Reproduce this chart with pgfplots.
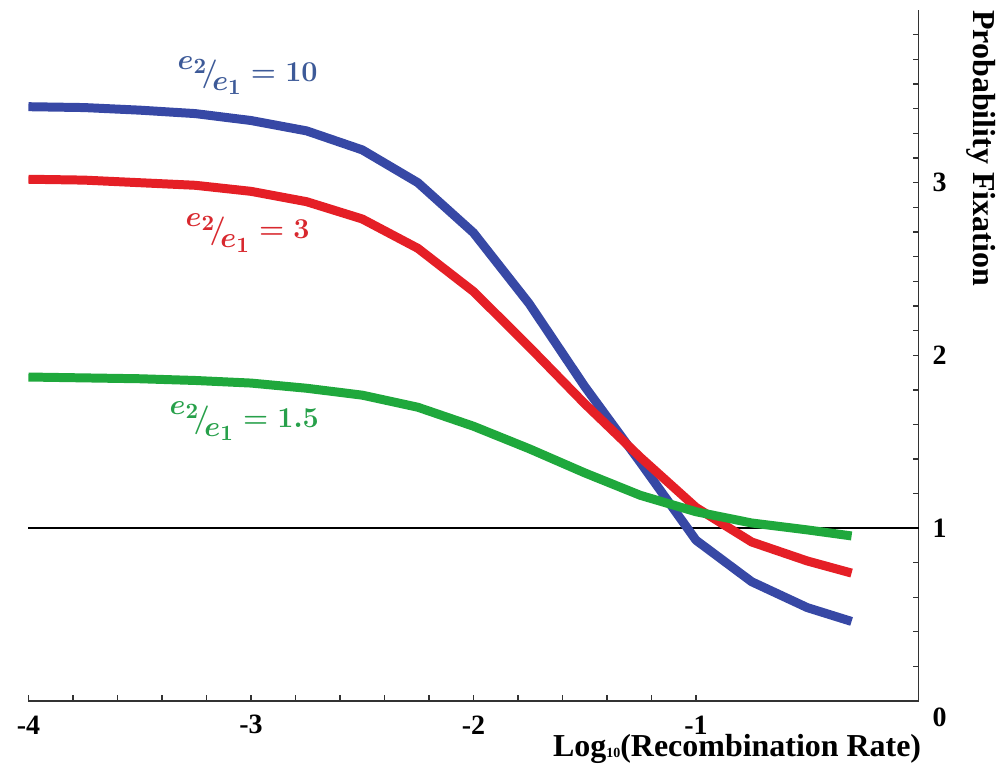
\documentclass[border=0pt]{standalone}
\usepackage{pgfplots}
\pgfplotsset{compat=1.18}
\usepackage{fontspec}
\setmainfont{Liberation Serif}
\definecolor{bluecurve}{HTML}{3748A5}
\definecolor{redcurve}{HTML}{E51F26}
\definecolor{greencurve}{HTML}{1FA83C}
\definecolor{bluetext}{HTML}{3D5A98}
\definecolor{redtext}{HTML}{D8282E}
\definecolor{greentext}{HTML}{27A04A}
\definecolor{axisgray}{HTML}{333333}
% e2/e1 ratio label, set as a slanted fraction
\newcommand{\ratio}[1]{{\boldmath$\raisebox{0.42em}{$e_2$}\!\big/\!\raisebox{-0.30em}{$e_1$} = \mathbf{#1}$}}

\begin{document}
\begin{tikzpicture}
\begin{axis}[
  scale only axis,
  width=445.75pt, height=346pt,
  xmin=-4, xmax=0, ymin=0, ymax=4,
  axis x line=bottom, axis y line=right,
  axis line style={-, draw=axisgray, line width=0.7pt},
  xtick={-4,-3,-2,-1},
  xticklabels={-4,-3,-2,-1},
  ytick={1,2,3},
  yticklabels={1,2,3},
  minor x tick num=4,
  minor ytick={0.2,0.4,0.6,0.8,1.2,1.4,1.6,1.8,
    2.142857,2.285714,2.428571,2.571429,2.714286,2.857143,
    3.142857,3.285714,3.428571,3.571429,3.714286,3.857143},
  tick align=inside,
  major tick length=3pt, minor tick length=3pt,
  tick style={draw=axisgray, line width=0.6pt},
  tick label style={font=\bfseries\fontsize{14}{16}\selectfont},
  xticklabel style={anchor=center, yshift=-12pt},
  yticklabel style={anchor=center, xshift=10.5pt},
  clip=false,
]
\coordinate (bl) at (rel axis cs:0,0);
\coordinate (tr) at (rel axis cs:1,1);

\draw[black, line width=0.75pt] (axis cs:-4,1) -- (axis cs:0,1);

\addplot[bluecurve, line width=4.5pt, line join=round] coordinates {
  (-4,3.44) (-3.75,3.435) (-3.5,3.42) (-3.25,3.40) (-3,3.36) (-2.75,3.30)
  (-2.5,3.19) (-2.25,3.00) (-2,2.71) (-1.75,2.30) (-1.5,1.82) (-1.25,1.38)
  (-1,0.93) (-0.75,0.69) (-0.5,0.54) (-0.301,0.46)};
\addplot[redcurve, line width=4.5pt, line join=round] coordinates {
  (-4,3.02) (-3.75,3.015) (-3.5,3.00) (-3.25,2.985) (-3,2.95) (-2.75,2.89)
  (-2.5,2.79) (-2.25,2.62) (-2,2.37) (-1.75,2.05) (-1.5,1.72) (-1.25,1.41)
  (-1,1.12) (-0.75,0.92) (-0.5,0.81) (-0.301,0.74)};
\addplot[greencurve, line width=4.5pt, line join=round] coordinates {
  (-4,1.875) (-3.75,1.87) (-3.5,1.865) (-3.25,1.855) (-3,1.84) (-2.75,1.81)
  (-2.5,1.77) (-2.25,1.70) (-2,1.59) (-1.75,1.46) (-1.5,1.32) (-1.25,1.19)
  (-1,1.095) (-0.75,1.03) (-0.5,0.99) (-0.301,0.955)};

\node[bluetext, font=\fontsize{15}{17}\selectfont] at (axis cs:-3.015,3.62) {\ratio{10}};
\node[redtext, font=\fontsize{15}{17}\selectfont] at (axis cs:-3.015,2.71) {\ratio{3}};
\node[greentext, font=\fontsize{15}{17}\selectfont] at (axis cs:-3.03,1.62) {\ratio{1.5}};

\node[font=\bfseries\fontsize{14}{16}\selectfont, anchor=center]
  at ([xshift=10.5pt, yshift=-8pt]axis cs:0,0) {0};
\node[font=\bfseries\fontsize{16}{18}\selectfont, anchor=base east, inner sep=0pt]
  at ([xshift=1.5pt, yshift=-28pt]axis cs:0,0)
  {Log\raisebox{-0.5pt}{\fontsize{7}{8}\selectfont 10}(Recombination Rate)};
\node[font=\bfseries\fontsize{16}{18}\selectfont, rotate=-90, anchor=west, inner sep=0pt]
  at ([xshift=31.5pt]rel axis cs:1,1) {Probability Fixation};
\end{axis}
\path ([xshift=-14.25pt, yshift=-32.5pt]bl) rectangle ([xshift=38pt, yshift=5pt]tr);
\end{tikzpicture}
\end{document}
